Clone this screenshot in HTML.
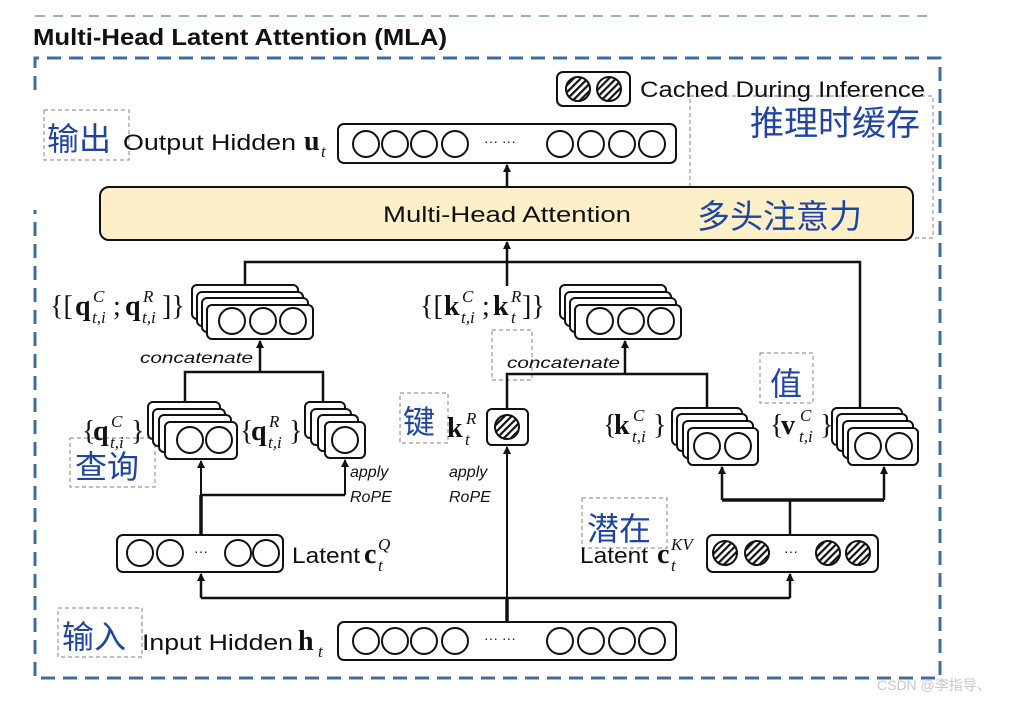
<!DOCTYPE html>
<html><head><meta charset="utf-8"><style>
html,body{margin:0;padding:0;background:#fff}
svg{display:block}
.t{font-family:"Liberation Sans","DejaVu Sans",sans-serif;fill:#111}
.m{font-family:"Liberation Serif","DejaVu Serif",serif;fill:#111;font-size:28px}
.b{font-weight:bold}
.s{font-family:"Liberation Serif","DejaVu Serif",serif;font-style:italic;fill:#111;font-size:17px}
.cn{font-family:"Liberation Sans","Noto Sans CJK SC",sans-serif;fill:#1f45a3}
.it{font-family:"Liberation Sans","DejaVu Sans",sans-serif;font-style:italic;fill:#111;font-size:16px}
</style></head><body>
<svg width="1033" height="702" viewBox="0 0 1033 702" xmlns="http://www.w3.org/2000/svg">
<defs>
<pattern id="h" patternUnits="userSpaceOnUse" width="5" height="5" patternTransform="rotate(45)">
<rect width="5" height="5" fill="#fff"/><rect width="2.2" height="5" fill="#111"/></pattern>
<marker id="a" markerWidth="8" markerHeight="8" refX="4" refY="1" orient="0" markerUnits="userSpaceOnUse"><path d="M0,8 L4,0 L8,8 Z" fill="#111"/></marker>
</defs>
<line x1="35" y1="16" x2="935" y2="16" stroke="#5a7fa3" stroke-width="1.2" stroke-dasharray="10 8"/>
<text x="33" y="45" class="t" font-size="23" font-weight="bold" textLength="414" lengthAdjust="spacingAndGlyphs">Multi-Head Latent Attention (MLA)</text>
<path d="M35,90 L35,58 L940,58 L940,678 L35,678 L35,210" fill="none" stroke="#3d6e9e" stroke-width="3" stroke-dasharray="14 8"/>
<g fill="none" stroke="#999" stroke-width="1.2" stroke-dasharray="4 3">
<rect x="44" y="110" width="85" height="50"/>
<rect x="690" y="96" width="243" height="142"/>
<rect x="70" y="438" width="85" height="49"/>
<rect x="400" y="393" width="48" height="50"/>
<rect x="492" y="330" width="40" height="50"/>
<rect x="760" y="353" width="53" height="50"/>
<rect x="582" y="498" width="85" height="50"/>
<rect x="58" y="608" width="84" height="49"/>
</g>
<g stroke="#111" stroke-width="2" fill="#fff">
<rect x="557" y="72" width="73" height="34" rx="6"/>
<circle cx="578" cy="89" r="12" fill="url(#h)"/><circle cx="609" cy="89" r="12" fill="url(#h)"/>
<rect x="338" y="124" width="338" height="39" rx="6"/>
<circle cx="366" cy="144" r="13"/><circle cx="395" cy="144" r="13"/><circle cx="424" cy="144" r="13"/><circle cx="455" cy="144" r="13"/>
<circle cx="560" cy="144" r="13"/><circle cx="591" cy="144" r="13"/><circle cx="622" cy="144" r="13"/><circle cx="652" cy="144" r="13"/>
<rect x="338" y="622" width="338" height="38" rx="6"/>
<circle cx="366" cy="641" r="13"/><circle cx="395" cy="641" r="13"/><circle cx="424" cy="641" r="13"/><circle cx="455" cy="641" r="13"/>
<circle cx="560" cy="641" r="13"/><circle cx="591" cy="641" r="13"/><circle cx="622" cy="641" r="13"/><circle cx="652" cy="641" r="13"/>
<rect x="100" y="187" width="813" height="53" rx="9" fill="#fdf0c8"/>
</g>
<g fill="#111" font-size="14" class="t"><text x="484" y="146">··· ···</text><text x="484" y="643">··· ···</text></g>
<g stroke="#111" stroke-width="2" fill="#fff">
<rect x="192" y="285" width="106" height="34" rx="5"/><rect x="197" y="292" width="106" height="34" rx="5"/><rect x="202" y="298" width="106" height="34" rx="5"/><rect x="207" y="305" width="106" height="34" rx="5"/>
<circle cx="232" cy="321" r="13"/><circle cx="263" cy="321" r="13"/><circle cx="293" cy="321" r="13"/>
<rect x="560" y="285" width="106" height="34" rx="5"/><rect x="565" y="292" width="106" height="34" rx="5"/><rect x="570" y="298" width="106" height="34" rx="5"/><rect x="575" y="305" width="106" height="34" rx="5"/>
<circle cx="600" cy="321" r="13"/><circle cx="631" cy="321" r="13"/><circle cx="661" cy="321" r="13"/>
<rect x="148" y="402" width="72" height="37" rx="5"/><rect x="153" y="409" width="72" height="37" rx="5"/><rect x="159" y="415" width="72" height="37" rx="5"/><rect x="165" y="422" width="72" height="37" rx="5"/>
<circle cx="190" cy="440" r="13"/><circle cx="219" cy="440" r="13"/>
<rect x="305" y="402" width="40" height="36" rx="5"/><rect x="311" y="409" width="40" height="36" rx="5"/><rect x="318" y="415" width="40" height="36" rx="5"/><rect x="325" y="422" width="40" height="36" rx="5"/>
<circle cx="345" cy="440" r="13"/>
<rect x="487" y="409" width="41" height="36" rx="5"/><circle cx="507" cy="427" r="12" fill="url(#h)"/>
<rect x="672" y="408" width="70" height="37" rx="5"/><rect x="677" y="414" width="70" height="37" rx="5"/><rect x="683" y="421" width="70" height="37" rx="5"/><rect x="688" y="428" width="70" height="37" rx="5"/>
<circle cx="707" cy="446" r="13"/><circle cx="738" cy="446" r="13"/>
<rect x="832" y="408" width="70" height="37" rx="5"/><rect x="837" y="414" width="70" height="37" rx="5"/><rect x="843" y="421" width="70" height="37" rx="5"/><rect x="848" y="428" width="70" height="37" rx="5"/>
<circle cx="868" cy="446" r="13"/><circle cx="899" cy="446" r="13"/>
<rect x="117" y="535" width="166" height="37" rx="6"/>
<circle cx="140" cy="553" r="13"/><circle cx="170" cy="553" r="13"/><circle cx="238" cy="553" r="13"/><circle cx="266" cy="553" r="13"/>
<rect x="707" y="535" width="171" height="37" rx="6"/>
<circle cx="725" cy="553" r="12" fill="url(#h)"/><circle cx="757" cy="553" r="12" fill="url(#h)"/><circle cx="828" cy="553" r="12" fill="url(#h)"/><circle cx="858" cy="553" r="12" fill="url(#h)"/>
</g>
<g class="t" font-size="14"><text x="194" y="556">···</text><text x="784" y="556">···</text></g>
<g stroke="#111" stroke-width="2.5" fill="none">
<line x1="507" y1="187" x2="507" y2="165" marker-end="url(#a)"/>
<polyline points="245,286 245,262 860,262 860,408"/>
<line x1="507" y1="262" x2="507" y2="242" marker-end="url(#a)"/>
<line x1="507" y1="262" x2="507" y2="286"/>
<polyline points="185,403 185,372 323,372 323,403"/>
<line x1="260" y1="372" x2="260" y2="341" marker-end="url(#a)"/>
<polyline points="507,409 507,374 707,374 707,408"/>
<line x1="625" y1="374" x2="625" y2="341" marker-end="url(#a)"/>
<line x1="201" y1="535" x2="201" y2="495" stroke-width="3.5"/>
<polyline points="201,495 345,495"/>
<line x1="201" y1="495" x2="201" y2="461" stroke-width="2" marker-end="url(#a)"/>
<line x1="345" y1="495" x2="345" y2="460" stroke-width="2" marker-end="url(#a)"/>
<polyline points="790,598 201,598"/>
<line x1="201" y1="598" x2="201" y2="574" marker-end="url(#a)"/>
<line x1="790" y1="598" x2="790" y2="574" marker-end="url(#a)"/>
<line x1="507" y1="622" x2="507" y2="598" stroke-width="3.5"/>
<line x1="507" y1="598" x2="507" y2="447" stroke-width="2" marker-end="url(#a)"/>
<line x1="790" y1="535" x2="790" y2="500"/>
<polyline points="722,500 884,500" stroke-width="3.5"/>
<line x1="722" y1="500" x2="722" y2="467" marker-end="url(#a)"/>
<line x1="884" y1="500" x2="884" y2="467" marker-end="url(#a)"/>
</g>
<text x="640" y="97" class="t" font-size="22" textLength="285" lengthAdjust="spacingAndGlyphs">Cached During Inference</text>
<text x="383" y="222" class="t" font-size="22" textLength="248" lengthAdjust="spacingAndGlyphs">Multi-Head Attention</text>
<text x="123" y="150" class="t" font-size="22" textLength="173" lengthAdjust="spacingAndGlyphs">Output Hidden</text>
<text x="304" y="150" class="m b">u</text><text x="321" y="157" class="s">t</text>
<text x="142" y="650" class="t" font-size="22" textLength="151" lengthAdjust="spacingAndGlyphs">Input Hidden</text>
<text x="298" y="650" class="m b">h</text><text x="318" y="657" class="s">t</text>
<text x="292" y="563" class="t" font-size="22" textLength="68" lengthAdjust="spacingAndGlyphs">Latent</text>
<text x="364" y="563" class="m b">c</text><text x="378" y="571" class="s">t</text><text x="378" y="550" class="s">Q</text>
<text x="580" y="563" class="t" font-size="22" textLength="68" lengthAdjust="spacingAndGlyphs">Latent</text>
<text x="657" y="563" class="m b">c</text><text x="671" y="571" class="s">t</text><text x="671" y="550" class="s">KV</text>
<text x="50" y="315" class="m">{[</text><text x="75" y="315" class="m b">q</text><text x="93" y="302" class="s">C</text><text x="92" y="323" class="s">t,i</text>
<text x="113" y="315" class="m">;</text><text x="125" y="315" class="m b">q</text><text x="143" y="302" class="s">R</text><text x="142" y="323" class="s">t,i</text><text x="162" y="315" class="m">]}</text>
<text x="420" y="315" class="m">{[</text><text x="444" y="315" class="m b">k</text><text x="462" y="302" class="s">C</text><text x="461" y="323" class="s">t,i</text>
<text x="482" y="315" class="m">;</text><text x="493" y="315" class="m b">k</text><text x="511" y="302" class="s">R</text><text x="511" y="323" class="s">t</text><text x="522" y="315" class="m">]}</text>
<text x="82" y="440" class="m">{</text><text x="93" y="440" class="m b">q</text><text x="111" y="427" class="s">C</text><text x="110" y="448" class="s">t,i</text><text x="131" y="440" class="m">}</text>
<text x="240" y="440" class="m">{</text><text x="251" y="440" class="m b">q</text><text x="269" y="427" class="s">R</text><text x="268" y="448" class="s">t,i</text><text x="289" y="440" class="m">}</text>
<text x="447" y="437" class="m b">k</text><text x="466" y="424" class="s">R</text><text x="465" y="445" class="s">t</text>
<text x="603" y="434" class="m">{</text><text x="614" y="434" class="m b">k</text><text x="633" y="421" class="s">C</text><text x="632" y="442" class="s">t,i</text><text x="653" y="434" class="m">}</text>
<text x="770" y="434" class="m">{</text><text x="781" y="434" class="m b">v</text><text x="800" y="421" class="s">C</text><text x="799" y="442" class="s">t,i</text><text x="820" y="434" class="m">}</text>
<text x="140" y="363" class="it" textLength="113" lengthAdjust="spacingAndGlyphs">concatenate</text>
<text x="507" y="368" class="it" textLength="113" lengthAdjust="spacingAndGlyphs">concatenate</text>
<text x="350" y="477" class="it">apply</text><text x="350" y="502" class="it">RoPE</text>
<text x="449" y="477" class="it">apply</text><text x="449" y="502" class="it">RoPE</text>
<g class="cn" font-size="32">
<text x="47" y="150">输出</text>
<text x="750" y="135" font-size="34">推理时缓存</text>
<text x="697" y="228" font-size="33">多头注意力</text>
<text x="75" y="478">查询</text>
<text x="403" y="433">键</text>
<text x="770" y="395">值</text>
<text x="587" y="540">潜在</text>
<text x="62" y="648">输入</text>
</g>
<text x="877" y="690" font-family="Liberation Sans,Noto Sans CJK SC,sans-serif" font-size="14" fill="#c8c8c8">CSDN @李指导、</text>
</svg>
</body></html>
